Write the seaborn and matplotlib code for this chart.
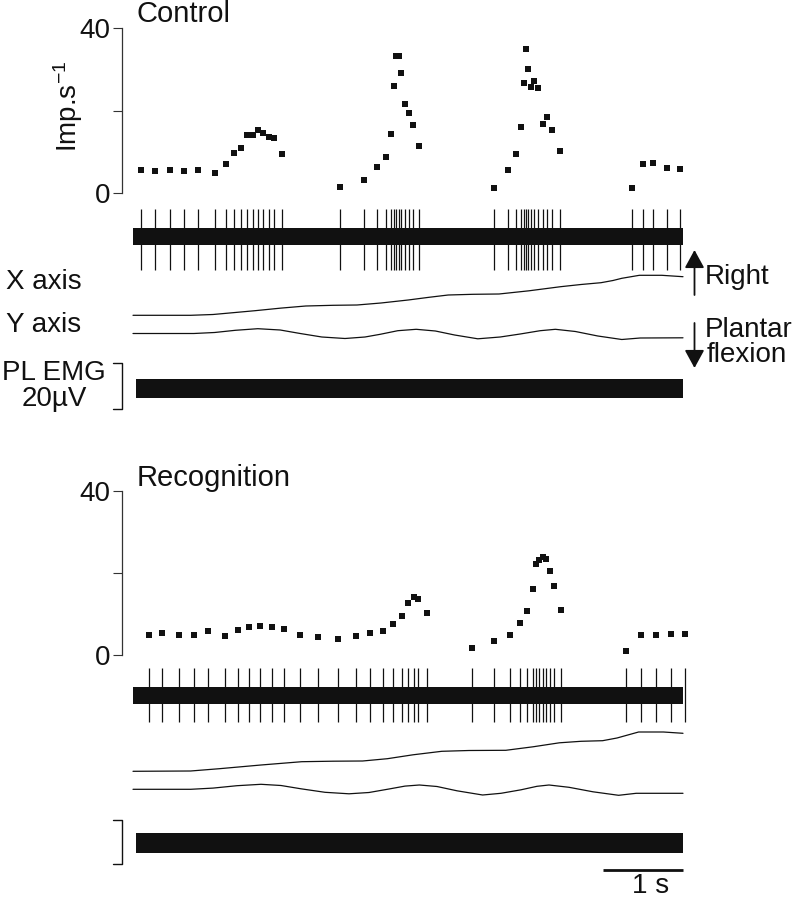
import matplotlib
matplotlib.use('Agg')
import matplotlib.pyplot as plt
import seaborn as sns

W, H = 799, 900
T0_PX, PX_PER_S = 133, 80      # time axis: t=0 at x=133 px, 80 px per second
TRACE_DUR = 6.875               # length of the raw recordings (s)

# instantaneous firing frequency (one dot per spike), Control
ctrl_spike_t = [0.100, 0.279, 0.459, 0.638, 0.816, 1.021, 1.163, 1.266, 1.354, 1.421,
                1.496, 1.559, 1.625, 1.700, 1.763, 1.866,
                2.584, 2.884, 3.046, 3.163, 3.225, 3.263, 3.284, 3.329, 3.354, 3.404,
                3.454, 3.504, 3.575,
                4.509, 4.688, 4.791, 4.854, 4.891, 4.916, 4.941, 4.979, 5.016, 5.059,
                5.121, 5.171, 5.238, 5.338,
                6.238, 6.379, 6.504, 6.671, 6.838]
ctrl_rate = [5.5, 5.2, 5.5, 5.2, 5.5, 4.8, 6.9, 9.7, 10.9, 14.1,
             14.1, 15.3, 14.6, 13.6, 13.2, 9.4,
             1.3, 3.2, 6.2, 8.6, 14.3, 26.0, 33.3, 33.2, 29.2, 21.6,
             19.5, 16.5, 11.4,
             1.1, 5.5, 9.4, 16.0, 26.7, 35.0, 30.2, 25.7, 27.2, 25.5,
             16.6, 18.5, 15.3, 10.1,
             1.1, 6.9, 7.2, 5.9, 5.7]

# Recognition
rec_spike_t = [0.200, 0.366, 0.571, 0.763, 0.941, 1.146, 1.313, 1.454, 1.591, 1.734,
               1.888, 2.091, 2.309, 2.563, 2.784, 2.963, 3.129, 3.254, 3.359, 3.434,
               3.513, 3.566, 3.679,
               4.238, 4.509, 4.713, 4.841, 4.929, 4.996, 5.034, 5.075, 5.125, 5.163,
               5.213, 5.263, 5.354,
               6.159, 6.350, 6.541, 6.721, 6.904]
rec_rate = [4.9, 5.5, 4.9, 4.9, 5.8, 4.7, 6.1, 6.8, 7.2, 6.8,
            6.5, 4.9, 4.4, 4.0, 4.7, 5.3, 5.8, 7.7, 9.6, 12.8,
            14.2, 13.7, 10.4,
            1.8, 3.5, 4.9, 7.8, 10.8, 16.2, 22.3, 23.2, 23.9, 23.4,
            20.4, 16.9, 11.1,
            1.1, 5.0, 5.0, 5.2, 5.2]

# ankle position (a.u., up = right / dorsiflexion)
ctrl_x_t = [0.0, 0.72, 1.0, 1.25, 1.525, 1.85, 2.16, 2.5, 2.8, 3.1, 3.44, 3.7,
            3.94, 4.25, 4.575, 4.95, 5.345, 5.6, 5.85, 6.0, 6.11, 6.33, 6.61, 6.875]
ctrl_x = [0.0, 0.0, 0.8, 2.6, 4.6, 7.2, 9.3, 10.0, 10.3, 12.3, 15.3, 18.0,
          20.3, 21.0, 21.3, 24.5, 28.6, 30.8, 32.6, 34.8, 37.0, 40.0, 40.0, 38.6]
ctrl_y_t = [0.0, 0.76, 1.02, 1.28, 1.56, 1.84, 2.09, 2.36, 2.65, 2.90, 3.09, 3.31,
            3.54, 3.78, 4.02, 4.31, 4.59, 4.84, 5.09, 5.28, 5.53, 5.81, 6.11, 6.34,
            6.875]
ctrl_y = [0.0, 0.0, 1.0, 3.2, 4.8, 3.5, 0.0, -3.5, -5.0, -3.5, -0.8, 2.8,
          4.2, 2.5, -1.5, -5.3, -3.5, -0.5, 2.8, 4.2, 2.0, -2.5, -6.0, -4.5,
          -4.3]

rec_x_t = [0.0, 0.72, 1.08, 1.6, 2.11, 2.5, 2.87, 3.18, 3.5, 3.86, 4.2, 4.66,
           5.0, 5.33, 5.6, 5.87, 6.05, 6.32, 6.63, 6.875]
rec_x = [0.0, 0.3, 2.6, 6.3, 9.6, 10.1, 10.3, 12.6, 16.5, 20.0, 20.8, 21.0,
         24.5, 28.5, 30.0, 30.6, 33.3, 39.3, 39.3, 38.0]
rec_y_t = [0.0, 0.72, 1.0, 1.3, 1.6, 1.85, 2.1, 2.4, 2.7, 2.95, 3.2, 3.4, 3.58,
           3.8, 4.05, 4.37, 4.6, 4.85, 5.05, 5.2, 5.45, 5.75, 6.07, 6.29, 6.875]
rec_y = [0.0, 0.0, 1.2, 3.6, 5.0, 3.8, 0.5, -3.0, -4.5, -3.2, 0.3, 3.2, 4.3,
         2.8, -1.5, -5.7, -4.0, -0.5, 3.0, 4.3, 2.0, -2.5, -6.0, -4.0, -4.0]

FS = 20
INK = '#111111'


def px_box(x0, y0, x1, y1):
    return [x0 / W, 1 - y1 / H, (x1 - x0) / W, (y1 - y0) / H]


def t_lim(x0, x1):
    return ((x0 - T0_PX) / PX_PER_S, (x1 - T0_PX) / PX_PER_S)


def ftxt(fig, x, y, s, **kw):
    kw.setdefault('fontsize', FS)
    fig.text(x / W, 1 - y / H, s, color=INK, **kw)


def draw_panel(fig, p):
    # firing-rate plot
    ax = fig.add_axes(px_box(122, p['rate_top'], 700, p['rate_bot']))
    sns.scatterplot(x=p['spike_t'], y=p['rate'], marker='s', s=14, color=INK,
                    edgecolor=None, linewidth=0, ax=ax, clip_on=False)
    ax.set_xlim(*t_lim(122, 700))
    ax.set_ylim(0, 40)
    for side in ['top', 'right', 'bottom']:
        ax.spines[side].set_visible(False)
    ax.spines['left'].set_color('#333333')
    ax.spines['left'].set_linewidth(0.9)
    ax.set_xticks([])
    ax.set_yticks([0, 20, 40])
    ax.set_yticklabels(['0', '', '40'])
    ax.tick_params(axis='y', length=6.5, width=0.8, pad=2, labelsize=FS,
                   colors='#333333', labelcolor=INK, direction='out', left=True)
    ax.patch.set_alpha(0)

    # raw traces (vertical units = pixels, inverted)
    tx = fig.add_axes(px_box(100, p['tr_top'], 700, p['tr_bot']))
    tx.set_xlim(*t_lim(100, 700))
    tx.set_ylim(p['tr_bot'], p['tr_top'])
    tx.axis('off')

    c, hw = p['spike_c'], p['spike_hw']
    tx.fill_between([0, TRACE_DUR], c - hw, c + hw, color=INK, lw=0)
    tx.vlines(p['spike_t'], c - p['spike_up'], c + p['spike_dn'], color=INK, lw=0.9)

    sns.lineplot(x=p['x_t'], y=[p['x_row'] - v for v in p['x']], color=INK, lw=0.9,
                 sort=False, estimator=None, ax=tx)
    sns.lineplot(x=p['y_t'], y=[p['y_row'] - v for v in p['y']], color=INK, lw=0.9,
                 sort=False, estimator=None, ax=tx)

    e, ehw = p['emg_c'], p['emg_hw']
    tx.fill_between([0.04, TRACE_DUR], e - ehw, e + ehw, color=INK, lw=0)

    # 20 uV calibration bracket
    bx0, bx1 = t_lim(113, 122)
    b0, b1 = p['cal']
    tx.plot([bx0, bx1, bx1, bx0], [b0, b0, b1, b1], color=INK, lw=1.0,
            clip_on=False)

    ftxt(fig, 137, p['title_y'], p['title'], ha='left', va='baseline', fontsize=FS + 1)
    return tx


sns.set_theme(style='white')
plt.rcParams['font.family'] = ['Liberation Sans', 'DejaVu Sans']
plt.rcParams['mathtext.fontset'] = 'custom'
plt.rcParams['mathtext.rm'] = 'Liberation Sans'
plt.rcParams['mathtext.default'] = 'rm'

fig = plt.figure(figsize=(W / 100, H / 100), dpi=100)

panels = [
    dict(title='Control', title_y=22, rate_top=28.3, rate_bot=192.7,
         tr_top=195, tr_bot=420, spike_t=ctrl_spike_t, rate=ctrl_rate,
         spike_c=236.5, spike_hw=8.5, spike_up=28, spike_dn=33,
         x_t=ctrl_x_t, x=ctrl_x, x_row=315.3, y_t=ctrl_y_t, y=ctrl_y, y_row=333.5,
         emg_c=388.5, emg_hw=9.5, cal=(363, 409)),
    dict(title='Recognition', title_y=486, rate_top=490.7, rate_bot=655.3,
         tr_top=657, tr_bot=900, spike_t=rec_spike_t, rate=rec_rate,
         spike_c=696, spike_hw=8.5, spike_up=28, spike_dn=26,
         x_t=rec_x_t, x=rec_x, x_row=771.3, y_t=rec_y_t, y=rec_y, y_row=789.3,
         emg_c=842.5, emg_hw=10, cal=(820, 864)),
]

axes = [draw_panel(fig, p) for p in panels]

# y label
ftxt(fig, 68, 106, r'Imp.s$^{-1}$', rotation=90, ha='center', va='center')

# trace labels (Control only)
ftxt(fig, 6, 282, 'X axis', ha='left', va='center')
ftxt(fig, 6, 325, 'Y axis', ha='left', va='center')
ftxt(fig, 54, 373, 'PL EMG', ha='center', va='center')
ftxt(fig, 54, 399, '20\u00b5V', ha='center', va='center')

# direction arrows
arrow = dict(arrowstyle='-|>,head_length=0.55,head_width=0.3', lw=1.3,
             color=INK, mutation_scale=20, shrinkA=0, shrinkB=0)
fig.add_artist(matplotlib.patches.FancyArrowPatch(
    (694.5 / W, 1 - 295 / H), (694.5 / W, 1 - 250 / H),
    transform=fig.transFigure, **arrow))
fig.add_artist(matplotlib.patches.FancyArrowPatch(
    (694.5 / W, 1 - 323 / H), (694.5 / W, 1 - 368 / H),
    transform=fig.transFigure, **arrow))
ftxt(fig, 705, 277, 'Right', ha='left', va='center')
ftxt(fig, 705, 330, 'Plantar', ha='left', va='center')
ftxt(fig, 707, 355, 'flexion', ha='left', va='center')

# 1 s time scale bar
tx = axes[1]
bar_end = TRACE_DUR
tx.plot([bar_end - 1.0, bar_end], [870, 870], color=INK, lw=2.0,
        solid_capstyle='butt', clip_on=False)
tx.text(bar_end - 0.4, 886, '1 s', ha='center', va='center', fontsize=FS, color=INK)

fig.savefig('out.png', dpi=100)
